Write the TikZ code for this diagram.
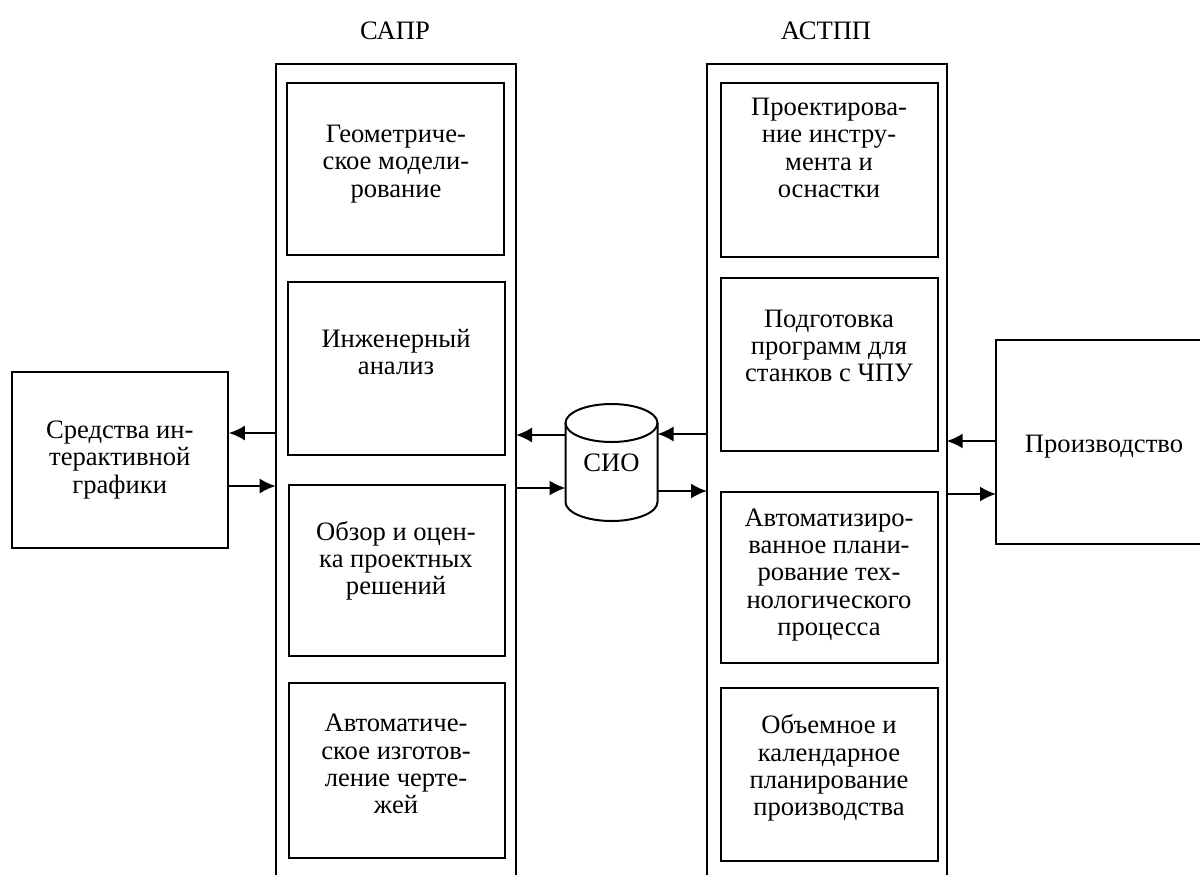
\documentclass[tikz,border=0pt]{standalone}
\usepackage{fontspec}
\setmainfont{Liberation Serif}
\usetikzlibrary{arrows.meta}
\begin{document}
\begin{tikzpicture}[x=0.5pt,y=-0.5pt,
  frame/.style={draw, line width=1pt},
  cell/.style={draw, line width=1pt, fill=none},
  txt/.style={align=center, font=\fontsize{13.3}{13.6}\selectfont, inner sep=0pt},
  flow/.style={line width=1pt, -{Latex[length=8pt,width=7.5pt]}}]
\useasboundingbox (0,0) rectangle (1200,874);

% column titles
\node[txt] (tcad) at (395,31) {САПР};
\node[txt] (tcam) at (826,31) {АСТПП};

% column frames, open at the bottom
\draw[frame] (275.7,880) -- (275.7,64) -- (516,64) -- (516,880);
\draw[frame] (707,880) -- (707,63.5) -- (946.7,63.5) -- (946.7,880);
\coordinate (cadW) at (275.7,0);
\coordinate (cadE) at (516,0);
\coordinate (camW) at (707,0);
\coordinate (camE) at (946.7,0);

% blocks of the CAD column
\draw[cell] (287,82.5) rectangle (503.5,255);
\node[txt] (c1) at (396,164) {Геометриче-\\ское модели-\\рование};
\draw[cell] (288.3,281.5) rectangle (505.3,454.5);
\node[txt] (c2) at (396,352) {Инженерный\\анализ};
\draw[cell] (288.5,485) rectangle (505.3,655.5);
\node[txt] (c3) at (396,561) {Обзор и оцен-\\ка проектных\\решений};
\draw[cell] (288.5,683) rectangle (505.3,857.7);
\node[txt] (c4) at (396,764) {Автоматиче-\\ское изготов-\\ление черте-\\жей};

% blocks of the CAM column
\draw[cell] (721,82.7) rectangle (937.8,256.5);
\node[txt] (m1) at (829,148) {Проектирова-\\ние инстру-\\мента и\\оснастки};
\draw[cell] (721,277.5) rectangle (937.8,451);
\node[txt] (m2) at (829,346) {Подготовка\\программ для\\станков с ЧПУ};
\draw[cell] (721,491.7) rectangle (937.8,663);
\node[txt] (m3) at (829,575) {Автоматизиро-\\ванное плани-\\рование тех-\\нологического\\процесса};
\draw[cell] (721,688) rectangle (937.8,861);
\node[txt] (m4) at (829,768) {Объемное и\\календарное\\планирование\\производства};

% interactive graphics
\node[draw, line width=1pt, minimum width=108pt, minimum height=88pt,
      txt, inner sep=0pt] (gr) at (119.8,460) {Средства ин-\\терактивной\\графики};

% production
\draw[frame] (1210,340) -- (996,340) -- (996,544) -- (1210,544);
\coordinate (prW) at (996,0);
\node[txt] (pr) at (1104,447) {Производство};

% common database
\draw[line width=1pt, fill=white] (565.5,423) -- (565.5,502)
   arc[start angle=180, end angle=360, x radius=23pt, y radius=9.5pt] -- (657.5,423);
\draw[line width=1pt] (611.5,423) ellipse [x radius=23pt, y radius=9.5pt];
\coordinate (dbW) at (565.5,0);
\coordinate (dbE) at (657.5,0);
\node[txt] (db) at (611.5,463) {СИО};

% links
\draw[flow] (cadW |- 0,433) -- (gr.east |- 0,433);
\draw[flow] (gr.east |- 0,486) -- (cadW |- 0,486);
\draw[flow] (dbW |- 0,435) -- (cadE |- 0,435);
\draw[flow] (cadE |- 0,488) -- (dbW |- 0,488);
\draw[flow] (camW |- 0,434) -- (dbE |- 0,434);
\draw[flow] (dbE |- 0,491) -- (camW |- 0,491);
\draw[flow] (prW |- 0,441) -- (camE |- 0,441);
\draw[flow] (camE |- 0,494) -- (prW |- 0,494);
\end{tikzpicture}
\end{document}
